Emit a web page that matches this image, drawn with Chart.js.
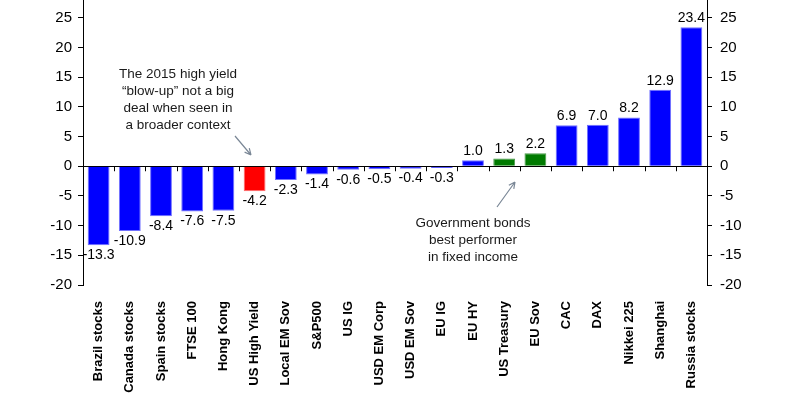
<!DOCTYPE html>
<html>
<head>
<meta charset="utf-8">
<script src="https://cdn.jsdelivr.net/npm/chart.js@4.4.1/dist/chart.umd.min.js"></script>
<style>
  html, body { margin: 0; padding: 0; background: #fff; }
  #wrap { width: 800px; height: 400px; }
</style>
</head>
<body>
<div id="wrap"><canvas id="chart"></canvas></div>
<script>
// datos
const categories = ['Brazil stocks', 'Canada stocks', 'Spain stocks', 'FTSE 100', 'Hong Kong', 'US High Yield',
  'Local EM Sov', 'S&P500', 'US IG', 'USD EM Corp', 'USD EM Sov', 'EU IG', 'EU HY', 'US Treasury', 'EU Sov',
  'CAC', 'DAX', 'Nikkei 225', 'Shanghai', 'Russia stocks'];
const returns = [-13.3, -10.9, -8.4, -7.6, -7.5, -4.2, -2.3, -1.4, -0.6, -0.5, -0.4, -0.3, 1.0, 1.3, 2.2, 6.9, 7.0, 8.2, 12.9, 23.4];
const highlightRed = ['US High Yield'];
const highlightGreen = ['US Treasury', 'EU Sov'];
const yTicks = [-20, -15, -10, -5, 0, 5, 10, 15, 20, 25];

const barColors = categories.map(c => highlightRed.includes(c) ? '#ff0000' : highlightGreen.includes(c) ? '#007a00' : '#0000ff');
const edgeColors = categories.map(c => highlightRed.includes(c) ? '#ff6a6a' : highlightGreen.includes(c) ? '#4a9a4a' : '#7070ff');

const FONT = '"Liberation Sans", Arial, sans-serif';

// etiquetas de valor, marcas sobre el cero y notas
const extrasPlugin = {
    id: 'extras',
    afterDatasetsDraw(chart) {
        const ctx = chart.ctx;
        const x = chart.scales.x, y = chart.scales.y;
        const zeroY = y.getPixelForValue(0);
        ctx.save();
        // marcas de categoría en la línea del cero
        ctx.strokeStyle = '#000';
        ctx.lineWidth = 1;
        const half = (x.getPixelForValue(1) - x.getPixelForValue(0)) / 2;
        for (let i = 1; i < categories.length; i++) {
            const px = Math.round(x.getPixelForValue(i) - half) + 0.5;
            ctx.beginPath();
            ctx.moveTo(px, zeroY);
            ctx.lineTo(px, zeroY + 5);
            ctx.stroke();
        }
        // valores
        ctx.fillStyle = '#000';
        ctx.font = '14px ' + FONT;
        ctx.textAlign = 'center';
        chart.getDatasetMeta(0).data.forEach((bar, i) => {
            const v = returns[i];
            if (v >= 0) {
                ctx.textBaseline = 'bottom';
                ctx.fillText(v.toFixed(1), bar.x, bar.y - 2);
            } else {
                ctx.textBaseline = 'top';
                ctx.fillText(v.toFixed(1), bar.x, bar.y + 3);
            }
        });
        // notas
        ctx.fillStyle = '#1a1a1a';
        ctx.font = '13.5px ' + FONT;
        ctx.textBaseline = 'middle';
        ['The 2015 high yield', '\u201cblow-up\u201d not a big', 'deal when seen in', 'a broader context']
            .forEach((t, i) => ctx.fillText(t, 178, 74 + i * 17));
        ['Government bonds', 'best performer', 'in fixed income']
            .forEach((t, i) => ctx.fillText(t, 473, 223 + i * 17));
        drawArrow(ctx, 235, 136, 251, 155);
        drawArrow(ctx, 497, 207, 515, 182);
        ctx.restore();
    }
};

function drawArrow(ctx, x1, y1, x2, y2) {
    ctx.strokeStyle = '#7a8796';
    ctx.lineWidth = 1.2;
    ctx.beginPath();
    ctx.moveTo(x1, y1);
    ctx.lineTo(x2, y2);
    const a = Math.atan2(y2 - y1, x2 - x1);
    ctx.moveTo(x2, y2);
    ctx.lineTo(x2 - 7 * Math.cos(a - 0.45), y2 - 7 * Math.sin(a - 0.45));
    ctx.moveTo(x2, y2);
    ctx.lineTo(x2 - 7 * Math.cos(a + 0.45), y2 - 7 * Math.sin(a + 0.45));
    ctx.stroke();
}

function yAxis(position, width, padding) {
    return {
        type: 'linear',
        position: position,
        min: -20,
        max: 28,
        afterBuildTicks: s => { s.ticks = yTicks.map(v => ({ value: v })); },
        afterFit: s => { s.width = width; s.paddingTop = 0; s.paddingBottom = 0; },
        border: { display: true, color: '#000', width: 1 },
        grid: {
            drawOnChartArea: position === 'left',
            color: c => c.tick && c.tick.value === 0 ? '#000' : 'rgba(0,0,0,0)',
            tickColor: '#000',
            tickLength: 5
        },
        ticks: { color: '#000', font: { family: FONT, size: 15 }, padding: padding }
    };
}

new Chart(document.getElementById('chart'), {
    type: 'bar',
    data: {
        labels: categories,
        datasets: [{
            data: returns,
            backgroundColor: barColors,
            borderColor: edgeColors,
            borderWidth: 1,
            barPercentage: 0.7,
            categoryPercentage: 1.0
        }]
    },
    options: {
        responsive: true,
        maintainAspectRatio: false,
        animation: false,
        layout: { padding: 0 },
        plugins: { legend: { display: false }, tooltip: { enabled: false } },
        scales: {
            x: {
                afterFit: s => { s.height = 115; s.paddingLeft = 0; s.paddingRight = 0; },
                grid: { display: false },
                border: { display: false },
                ticks: {
                    color: '#000',
                    autoSkip: false,
                    maxRotation: 90,
                    minRotation: 90,
                    padding: 8,
                    font: { family: FONT, size: 13, weight: 'bold' }
                }
            },
            y: yAxis('left', 83, 6),
            y2: yAxis('right', 93, 8)
        }
    },
    plugins: [extrasPlugin]
});
</script>
</body>
</html>
